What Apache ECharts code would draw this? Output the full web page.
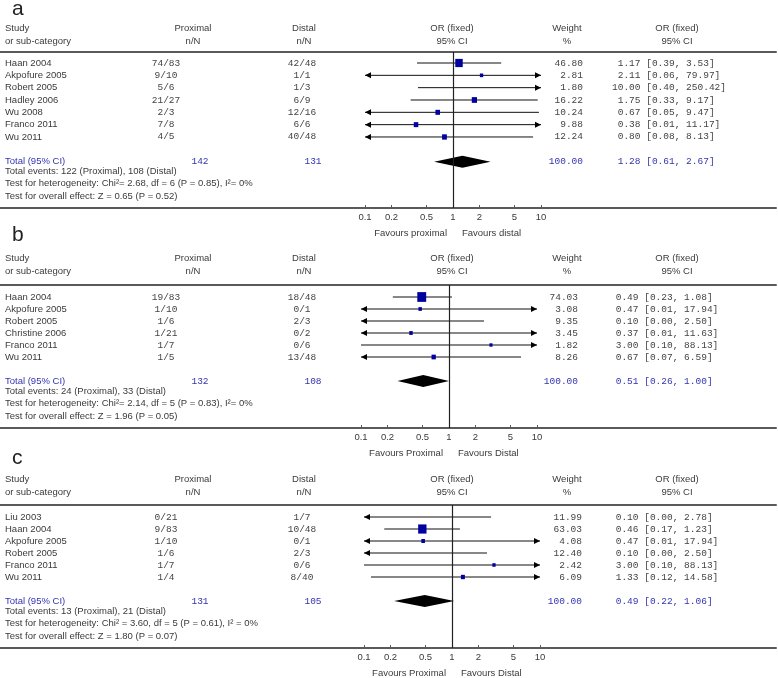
<!DOCTYPE html>
<html><head><meta charset="utf-8">
<script src="https://cdn.jsdelivr.net/npm/echarts@6/dist/echarts.min.js"></script>
<style>html,body{margin:0;padding:0;background:#fff}#c{width:778px;height:678px}</style>
</head><body><div id="c"></div>
<script>
// ---------- DATA ----------
const TICKS = [0.1, 0.2, 0.5, 1, 2, 5, 10];
const TICK_LABELS = ['0.1', '0.2', '0.5', '1', '2', '5', '10'];

// Panel a
const studiesA = ['Haan 2004', 'Akpofure 2005', 'Robert 2005', 'Hadley 2006', 'Wu 2008', 'Franco 2011', 'Wu 2011'];
const proxA = ['74/83', '9/10', '5/6', '21/27', '2/3', '7/8', '4/5'];
const distA = ['42/48', '1/1', '1/3', '6/9', '12/16', '6/6', '40/48'];
const weightA = [46.80, 2.81, 1.80, 16.22, 10.24, 9.88, 12.24];
const orA = [1.17, 2.11, 10.00, 1.75, 0.67, 0.38, 0.80];
const loA = [0.39, 0.06, 0.40, 0.33, 0.05, 0.01, 0.08];
const hiA = [3.53, 79.97, 250.42, 9.17, 9.47, 11.17, 8.13];
const totalA = { prox: '142', dist: '131', weight: 100.00, or: 1.28, lo: 0.61, hi: 2.67 };
const footerA = ['Total events: 122 (Proximal), 108 (Distal)',
  'Test for heterogeneity: Chi\u00b2= 2.68, df = 6 (P = 0.85), I\u00b2= 0%',
  'Test for overall effect: Z = 0.65 (P = 0.52)'];
const favoursA = ['Favours proximal', 'Favours distal'];

// Panel b
const studiesB = ['Haan 2004', 'Akpofure 2005', 'Robert 2005', 'Christine 2006', 'Franco 2011', 'Wu 2011'];
const proxB = ['19/83', '1/10', '1/6', '1/21', '1/7', '1/5'];
const distB = ['18/48', '0/1', '2/3', '0/2', '0/6', '13/48'];
const weightB = [74.03, 3.08, 9.35, 3.45, 1.82, 8.26];
const orB = [0.49, 0.47, 0.10, 0.37, 3.00, 0.67];
const loB = [0.23, 0.01, 0.00, 0.01, 0.10, 0.07];
const hiB = [1.08, 17.94, 2.50, 11.63, 88.13, 6.59];
const totalB = { prox: '132', dist: '108', weight: 100.00, or: 0.51, lo: 0.26, hi: 1.00 };
const footerB = ['Total events: 24 (Proximal), 33 (Distal)',
  'Test for heterogeneity: Chi\u00b2= 2.14, df = 5 (P = 0.83), I\u00b2= 0%',
  'Test for overall effect: Z = 1.96 (P = 0.05)'];
const favoursB = ['Favours Proximal', 'Favours Distal'];

// Panel c
const studiesC = ['Liu 2003', 'Haan 2004', 'Akpofure 2005', 'Robert 2005', 'Franco 2011', 'Wu 2011'];
const proxC = ['0/21', '9/83', '1/10', '1/6', '1/7', '1/4'];
const distC = ['1/7', '10/48', '0/1', '2/3', '0/6', '8/40'];
const weightC = [11.99, 63.03, 4.08, 12.40, 2.42, 6.09];
const orC = [0.10, 0.46, 0.47, 0.10, 3.00, 1.33];
const loC = [0.00, 0.17, 0.01, 0.00, 0.10, 0.12];
const hiC = [2.78, 1.23, 17.94, 2.50, 88.13, 14.58];
const totalC = { prox: '131', dist: '105', weight: 100.00, or: 0.49, lo: 0.22, hi: 1.06 };
const footerC = ['Total events: 13 (Proximal), 21 (Distal)',
  'Test for heterogeneity: Chi\u00b2 = 3.60, df = 5 (P = 0.61), I\u00b2 = 0%',
  'Test for overall effect: Z = 1.80 (P = 0.07)'];
const favoursC = ['Favours Proximal', 'Favours Distal'];

// ---------- LAYOUT ----------
const LINE_RIGHT = 776, DECADE = 88;
const COL = { study: 5, prox: 166, dist: 302, totProx: 200, totDist: 313,
  headProx: 193, headDist: 304, headOR: 452, headW: 567, headOR2: 677 };
const layouts = [
  { label: 'a', labelY: 9, studyY: 28, subY: 41, lineY: 52, row0: 63, pitch: 12.33, axisY: 208, xOne: 453, wRight: 583, orLeft: 612 },
  { label: 'b', labelY: 235, studyY: 258, subY: 271, lineY: 285, row0: 297, pitch: 12, axisY: 428, xOne: 449, wRight: 578, orLeft: 610 },
  { label: 'c', labelY: 458, studyY: 479, subY: 492, lineY: 505, row0: 517, pitch: 12, axisY: 648, xOne: 452, wRight: 582, orLeft: 610 }
];
const panels = [
  { studies: studiesA, prox: proxA, dist: distA, weight: weightA, or: orA, lo: loA, hi: hiA, total: totalA, footer: footerA, favours: favoursA },
  { studies: studiesB, prox: proxB, dist: distB, weight: weightB, or: orB, lo: loB, hi: hiB, total: totalB, footer: footerB, favours: favoursB },
  { studies: studiesC, prox: proxC, dist: distC, weight: weightC, or: orC, lo: loC, hi: hiC, total: totalC, footer: footerC, favours: favoursC }
];

const SANS = '"Liberation Sans", Arial, sans-serif';
const MONO = '"Liberation Mono", "Courier New", monospace';
const TXT = '#3a3a3a', NUM = '#444', BLUE = '#3434b0', SQ = '#0000a0';
const XMIN_V = TICKS[0], XMAX_V = TICKS[TICKS.length - 1];
const lg = v => Math.log10(v);
const fmtCI = (o, l, h) => o.toFixed(2).padStart(5) + ' [' + l.toFixed(2) + ', ' + h.toFixed(2) + ']';

function txt(text, x, y, align, font, fill) {
  return { type: 'text', x: x, y: y, silent: true,
    style: { text: text, font: font, fill: fill, align: align, verticalAlign: 'middle', textAlign: align, textVerticalAlign: 'middle' } };
}

const grids = [], xAxes = [], yAxes = [], series = [], graphics = [];

panels.forEach((P, p) => {
  const L = layouts[p];
  const n = P.studies.length;
  grids.push({ left: 0, width: LINE_RIGHT, top: L.lineY, height: L.axisY - L.lineY, containLabel: false });
  const xmin = -L.xOne / DECADE, xmax = (LINE_RIGHT - L.xOne) / DECADE;
  xAxes.push({ gridIndex: p, type: 'value', position: 'bottom', min: xmin, max: xmax,
    axisLine: { show: true, onZero: false, lineStyle: { color: '#5a5a5a', width: 2 } },
    axisTick: { show: true, inside: true, customValues: TICKS.map(lg), length: 3, lineStyle: { color: '#5a5a5a', width: 1 } },
    axisLabel: { show: true, customValues: TICKS.map(lg), margin: 4, fontSize: 9.5, fontFamily: SANS, color: TXT,
      formatter: v => { let best = 0; TICKS.forEach((t, k) => { if (Math.abs(lg(t) - v) < Math.abs(lg(TICKS[best]) - v)) best = k; }); return TICK_LABELS[best]; } },
    splitLine: { show: false } });
  xAxes.push({ gridIndex: p, type: 'value', position: 'top', min: xmin, max: xmax,
    axisLine: { show: true, onZero: false, lineStyle: { color: '#5a5a5a', width: 2 } },
    axisTick: { show: false }, axisLabel: { show: false }, splitLine: { show: false } });
  yAxes.push({ gridIndex: p, type: 'value', inverse: true,
    min: -(L.row0 - L.lineY) / L.pitch, max: (L.axisY - L.row0) / L.pitch, show: false });
  const xi = 2 * p, yi = p;

  // CI lines, arrows and squares
  series.push({ type: 'custom', xAxisIndex: xi, yAxisIndex: yi, clip: false, silent: true, z: 3,
    data: P.or.map((v, i) => [i, v, P.lo[i], P.hi[i], P.weight[i]]),
    renderItem: (params, api) => {
      const row = api.value(0), o = api.value(1), l = api.value(2), h = api.value(3), w = api.value(4);
      const y = api.coord([0, row])[1];
      const x1 = api.coord([lg(Math.max(l, XMIN_V)), row])[0];
      const x2 = api.coord([lg(Math.min(h, XMAX_V)), row])[0];
      const ch = [{ type: 'line', shape: { x1: x1, y1: y, x2: x2, y2: y }, style: { stroke: '#111', lineWidth: 1 } }];
      if (l < XMIN_V) ch.push({ type: 'polygon', shape: { points: [[x1, y], [x1 + 6, y - 3], [x1 + 6, y + 3]] }, style: { fill: '#000' } });
      if (h > XMAX_V) ch.push({ type: 'polygon', shape: { points: [[x2, y], [x2 - 6, y - 3], [x2 - 6, y + 3]] }, style: { fill: '#000' } });
      if (o > XMIN_V && o < XMAX_V) {
        const xc = api.coord([lg(o), row])[0];
        const s = 2 + 0.8 * Math.sqrt(w);
        ch.push({ type: 'rect', shape: { x: xc - s / 2, y: y - s * 0.55, width: s, height: s * 1.1 }, style: { fill: SQ } });
      }
      return { type: 'group', children: ch };
    },
    markLine: { silent: true, symbol: 'none', label: { show: false },
      lineStyle: { color: '#222', width: 1.2, type: 'solid' }, data: [{ xAxis: 0 }] }
  });

  // Total diamond
  series.push({ type: 'custom', xAxisIndex: xi, yAxisIndex: yi, clip: false, silent: true, z: 4,
    data: [[n + 1, P.total.or, P.total.lo, P.total.hi]],
    renderItem: (params, api) => {
      const row = api.value(0);
      const c = api.coord([lg(api.value(1)), row]);
      const a = api.coord([lg(api.value(2)), row]);
      const b = api.coord([lg(api.value(3)), row]);
      return { type: 'polygon', shape: { points: [[a[0], c[1]], [c[0], c[1] - 6], [b[0], c[1]], [c[0], c[1] + 6]] }, style: { fill: '#000' } };
    }
  });

  // Row texts
  series.push({ type: 'custom', xAxisIndex: xi, yAxisIndex: yi, clip: false, silent: true, z: 5,
    data: P.studies.map((s, i) => [i]),
    renderItem: (params, api) => {
      const i = params.dataIndex;
      const y = api.coord([0, api.value(0)])[1];
      return { type: 'group', children: [
        txt(P.studies[i], COL.study, y, 'left', '9.5px ' + SANS, TXT),
        txt(P.prox[i], COL.prox, y, 'center', '9.5px ' + MONO, NUM),
        txt(P.dist[i], COL.dist, y, 'center', '9.5px ' + MONO, NUM),
        txt(P.weight[i].toFixed(2), L.wRight, y, 'right', '9.5px ' + MONO, NUM),
        txt(fmtCI(P.or[i], P.lo[i], P.hi[i]), L.orLeft, y, 'left', '9.5px ' + MONO, NUM)
      ] };
    }
  });

  // Total row texts + footer
  series.push({ type: 'custom', xAxisIndex: xi, yAxisIndex: yi, clip: false, silent: true, z: 5,
    data: [[n + 1]],
    renderItem: (params, api) => {
      const y = api.coord([0, api.value(0)])[1];
      const T = P.total;
      return { type: 'group', children: [
        txt('Total (95% CI)', COL.study, y, 'left', '9.5px ' + SANS, BLUE),
        txt(T.prox, COL.totProx, y, 'center', '9.5px ' + MONO, BLUE),
        txt(T.dist, COL.totDist, y, 'center', '9.5px ' + MONO, BLUE),
        txt(T.weight.toFixed(2), L.wRight, y, 'right', '9.5px ' + MONO, BLUE),
        txt(fmtCI(T.or, T.lo, T.hi), L.orLeft, y, 'left', '9.5px ' + MONO, BLUE),
        txt(P.footer[0], COL.study, y + 10, 'left', '9.5px ' + SANS, TXT),
        txt(P.footer[1], COL.study, y + 22, 'left', '9.5px ' + SANS, TXT),
        txt(P.footer[2], COL.study, y + 35, 'left', '9.5px ' + SANS, TXT)
      ] };
    }
  });

  // Headers
  const hf = '9.5px ' + SANS;
  graphics.push(txt(L.label, 12, L.labelY, 'left', '21px ' + SANS, '#222'));
  graphics.push(txt('Study', COL.study, L.studyY, 'left', hf, TXT));
  graphics.push(txt('or sub-category', COL.study, L.subY, 'left', hf, TXT));
  graphics.push(txt('Proximal', COL.headProx, L.studyY, 'center', hf, TXT));
  graphics.push(txt('n/N', COL.headProx, L.subY, 'center', hf, TXT));
  graphics.push(txt('Distal', COL.headDist, L.studyY, 'center', hf, TXT));
  graphics.push(txt('n/N', COL.headDist, L.subY, 'center', hf, TXT));
  graphics.push(txt('OR (fixed)', COL.headOR, L.studyY, 'center', hf, TXT));
  graphics.push(txt('95% CI', COL.headOR, L.subY, 'center', hf, TXT));
  graphics.push(txt('Weight', COL.headW, L.studyY, 'center', hf, TXT));
  graphics.push(txt('%', COL.headW, L.subY, 'center', hf, TXT));
  graphics.push(txt('OR (fixed)', COL.headOR2, L.studyY, 'center', hf, TXT));
  graphics.push(txt('95% CI', COL.headOR2, L.subY, 'center', hf, TXT));
  graphics.push(txt(P.favours[0], L.xOne - 6, L.axisY + 25, 'right', hf, TXT));
  graphics.push(txt(P.favours[1], L.xOne + 9, L.axisY + 25, 'left', hf, TXT));
});

const chart = echarts.init(document.getElementById('c'), null, { renderer: 'canvas' });
chart.setOption({
  animation: false,
  backgroundColor: '#fff',
  grid: grids, xAxis: xAxes, yAxis: yAxes, series: series,
  graphic: { elements: graphics }
});
</script></body></html>
